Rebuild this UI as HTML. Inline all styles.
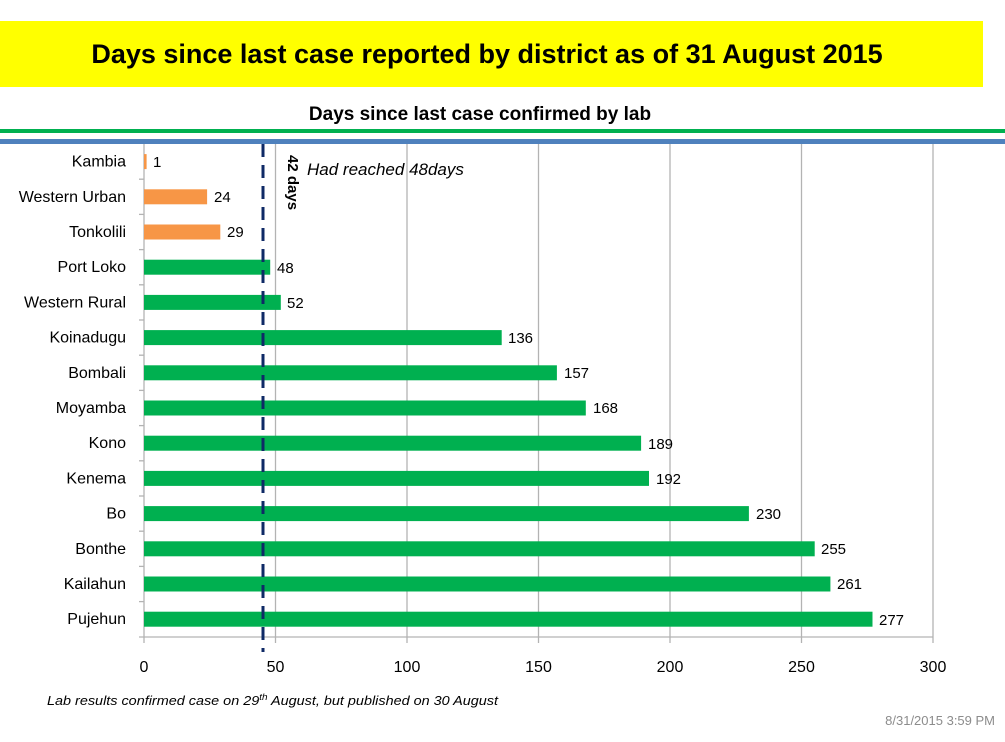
<!DOCTYPE html><html><head><style>body{margin:0;width:1005px;height:737px;background:#fff;overflow:hidden;font-family:"Liberation Sans",sans-serif}</style></head><body>
<svg width="1005" height="737" xmlns="http://www.w3.org/2000/svg" font-family="Liberation Sans, sans-serif">
<rect x="0" y="21" width="983" height="66" fill="#ffff00"/>
<text x="487" y="63" text-anchor="middle" font-size="27" font-weight="bold" fill="#000">Days since last case reported by district as of 31 August 2015</text>
<text x="480" y="120" text-anchor="middle" font-size="19" font-weight="bold">Days since last case confirmed by lab</text>
<rect x="0" y="129" width="1005" height="4" fill="#00b050"/>
<rect x="0" y="139" width="1005" height="5" fill="#4f81bd"/>
<g stroke="#b3b3b3" stroke-width="1.3">
<line x1="275.5" y1="144" x2="275.5" y2="637"/><line x1="407" y1="144" x2="407" y2="637"/><line x1="538.5" y1="144" x2="538.5" y2="637"/><line x1="670" y1="144" x2="670" y2="637"/><line x1="801.5" y1="144" x2="801.5" y2="637"/><line x1="933" y1="144" x2="933" y2="637"/>
<line x1="144" y1="144" x2="144" y2="637"/><line x1="139" y1="637" x2="933" y2="637"/>
<line x1="144" y1="637" x2="144" y2="643"/><line x1="275.5" y1="637" x2="275.5" y2="643"/><line x1="407" y1="637" x2="407" y2="643"/><line x1="538.5" y1="637" x2="538.5" y2="643"/><line x1="670" y1="637" x2="670" y2="643"/><line x1="801.5" y1="637" x2="801.5" y2="643"/><line x1="933" y1="637" x2="933" y2="643"/>
<line x1="139" y1="179.2" x2="144" y2="179.2"/><line x1="139" y1="214.4" x2="144" y2="214.4"/><line x1="139" y1="249.6" x2="144" y2="249.6"/><line x1="139" y1="284.8" x2="144" y2="284.8"/><line x1="139" y1="320" x2="144" y2="320"/><line x1="139" y1="355.2" x2="144" y2="355.2"/><line x1="139" y1="390.4" x2="144" y2="390.4"/><line x1="139" y1="425.6" x2="144" y2="425.6"/><line x1="139" y1="460.8" x2="144" y2="460.8"/><line x1="139" y1="496" x2="144" y2="496"/><line x1="139" y1="531.2" x2="144" y2="531.2"/><line x1="139" y1="566.4" x2="144" y2="566.4"/><line x1="139" y1="601.6" x2="144" y2="601.6"/>
</g>
<g fill="#f79646">
<rect x="144" y="154.1" width="2.6" height="15"/>
<rect x="144" y="189.3" width="63.1" height="15"/>
<rect x="144" y="224.5" width="76.3" height="15"/>
</g>
<g fill="#00b050">
<rect x="144" y="259.7" width="126.2" height="15"/>
<rect x="144" y="294.9" width="136.8" height="15"/>
<rect x="144" y="330.1" width="357.7" height="15"/>
<rect x="144" y="365.3" width="412.9" height="15"/>
<rect x="144" y="400.5" width="441.8" height="15"/>
<rect x="144" y="435.7" width="497.1" height="15"/>
<rect x="144" y="470.9" width="505" height="15"/>
<rect x="144" y="506.1" width="604.9" height="15"/>
<rect x="144" y="541.3" width="670.7" height="15"/>
<rect x="144" y="576.5" width="686.4" height="15"/>
<rect x="144" y="611.7" width="728.5" height="15"/>
</g>
<g font-size="15" fill="#000">
<text x="153" y="167">1</text>
<text x="214" y="202">24</text>
<text x="227" y="237">29</text>
<text x="277" y="273">48</text>
<text x="287" y="308">52</text>
<text x="508" y="343">136</text>
<text x="564" y="378">157</text>
<text x="593" y="413">168</text>
<text x="648" y="449">189</text>
<text x="656" y="484">192</text>
<text x="756" y="519">230</text>
<text x="821" y="554">255</text>
<text x="837" y="589">261</text>
<text x="879" y="625">277</text>
</g>
<g font-size="16" fill="#000" text-anchor="end">
<text x="126" y="166.6">Kambia</text>
<text x="126" y="201.8">Western Urban</text>
<text x="126" y="237">Tonkolili</text>
<text x="126" y="272.2">Port Loko</text>
<text x="126" y="307.4">Western Rural</text>
<text x="126" y="342.6">Koinadugu</text>
<text x="126" y="377.8">Bombali</text>
<text x="126" y="413">Moyamba</text>
<text x="126" y="448.2">Kono</text>
<text x="126" y="483.4">Kenema</text>
<text x="126" y="518.6">Bo</text>
<text x="126" y="553.8">Bonthe</text>
<text x="126" y="589">Kailahun</text>
<text x="126" y="624.2">Pujehun</text>
</g>
<line x1="263" y1="144" x2="263" y2="652" stroke="#0f2a66" stroke-width="3" stroke-dasharray="13,8"/>
<text transform="translate(288,155) rotate(90)" font-size="15" font-weight="bold">42 days</text>
<text x="307" y="175" font-size="17" font-style="italic">Had reached 48days</text>
<g font-size="16" text-anchor="middle"><text x="144" y="672">0</text><text x="275.5" y="672">50</text><text x="407" y="672">100</text><text x="538.5" y="672">150</text><text x="670" y="672">200</text><text x="801.5" y="672">250</text><text x="933" y="672">300</text></g>
<text x="47" y="705" font-size="13" font-style="italic" textLength="451" lengthAdjust="spacingAndGlyphs">Lab results confirmed case on 29<tspan font-size="9" dy="-5">th</tspan><tspan dy="5"> August, but published on 30 August</tspan></text>
<text x="995" y="725" font-size="13" fill="#8c8c8c" text-anchor="end">8/31/2015 3:59 PM</text>
</svg>
</body></html>
